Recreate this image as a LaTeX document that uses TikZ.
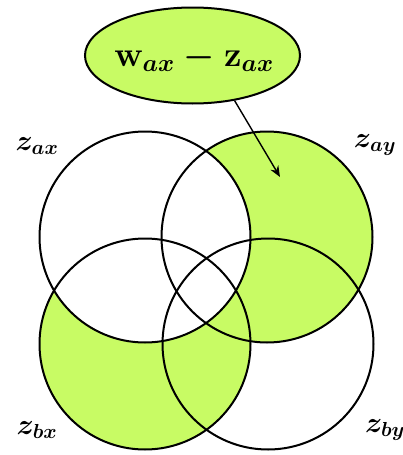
\RequirePackage{fix-cm}
\documentclass[tikz,border=0pt]{standalone}
\usetikzlibrary{shapes.geometric,arrows.meta}
\definecolor{lime}{RGB}{200,251,100}
\begin{document}
\begin{tikzpicture}[x=1pt,y=-1pt,
  ring/.style={draw=black,line width=2pt},
  lab/.style={inner sep=0pt,font=\fontsize{29}{34}\selectfont\boldmath}]
\useasboundingbox (0,0) rectangle (403,455);
\def\R{105.5}
\coordinate (A) at (145,237);
\coordinate (B) at (267,237);
\coordinate (C) at (145,344);
\coordinate (D) at (268,344);
\fill[lime] (B) circle[radius=\R];
\fill[lime] (C) circle[radius=\R];
\fill[white] (A) circle[radius=\R];
\draw[ring] (A) circle[radius=\R];
\draw[ring] (B) circle[radius=\R];
\draw[ring] (C) circle[radius=\R];
\draw[ring] (D) circle[radius=\R];
\node[ellipse,draw=black,line width=2pt,fill=lime,minimum width=215pt,minimum height=96pt,inner sep=0pt] (ell) at (192.5,55.5) {};
\node[inner sep=0pt,font=\fontsize{35}{42}\selectfont\boldmath] (eq) at (194,58) {$\mathrm{w}_{ax}-\mathrm{z}_{ax}$};
\coordinate (tip) at (280,177);
\draw[line width=1.4pt,-{Stealth[length=11pt,width=9pt]}] (ell.-47) -- (tip);
\node[lab] (lax) at (37,146) {$z_{ax}$};
\node[lab] (lay) at (375,145) {$z_{ay}$};
\node[lab] (lbx) at (37,430) {$z_{bx}$};
\node[lab] (lby) at (385,430) {$z_{by}$};
\end{tikzpicture}
\end{document}
